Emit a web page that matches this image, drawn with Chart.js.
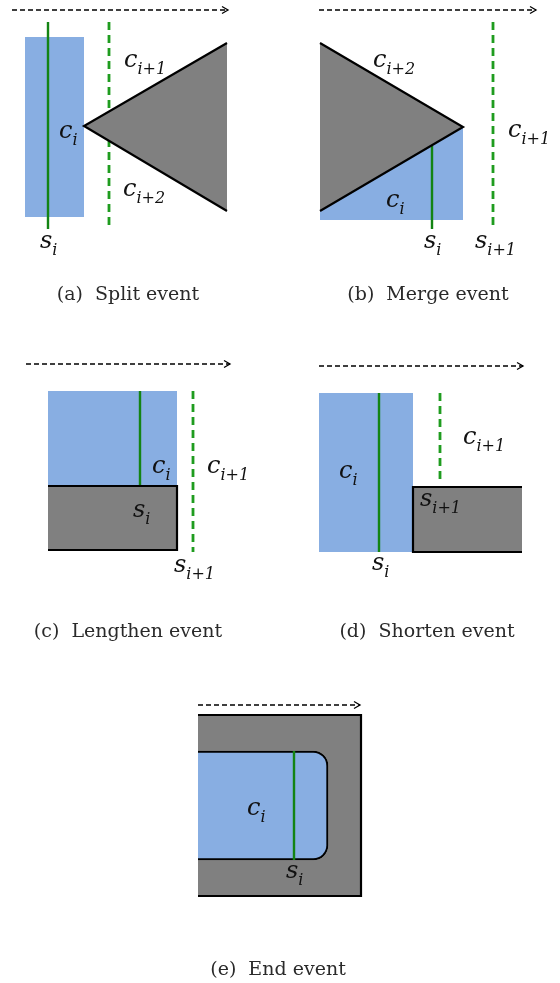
<!DOCTYPE html>
<html>
<head>
<meta charset="utf-8">
<script src="https://cdn.jsdelivr.net/npm/chart.js@4"></script>
<style>
html, body { margin: 0; padding: 0; background: #fff; }
canvas { display: block; }
</style>
</head>
<body>
<canvas id="eventChart" width="560" height="983"></canvas>
<script>
// sweep arrows, one per panel: [x start, x end, y]
var sweepArrows = [[12, 228, 10], [319, 536, 10], [26, 230, 364], [319, 523, 366], [198, 360, 705]];

// (a) split event
var splitCell = [[25, 37], [84, 37]], splitCellBottom = 217;
var splitUpper = [[84, 126], [227, 43]];
var splitLower = [[84, 126], [227, 211]];
var splitEdge = [[227, 43], [84, 126], [227, 211]];
var splitSweep = [[48, 22], [48, 229]];
var splitNext = [[109, 22], [109, 230]];

// (b) merge event
var mergeCell = [[320, 211], [463, 127]], mergeCellBottom = 220;
var mergeUpper = [[320, 43], [463, 127]];
var mergeLower = [[320, 211], [463, 127]];
var mergeEdge = [[320, 43], [463, 127], [320, 211]];
var mergeSweep = [[432, 146], [432, 229]];
var mergeNext = [[493, 22], [493, 230]];

// (c) lengthen event
var lengthCell = [[48, 391], [177, 391]], lengthCellBottom = 486;
var lengthObst = [[48, 486], [177, 486]], lengthObstBottom = 550;
var lengthObstEdge = [[48, 486], [177, 486], [177, 550], [48, 550]];
var lengthSweep = [[140, 391], [140, 486]];
var lengthNext = [[193, 391], [193, 552]];

// (d) shorten event
var shortCell = [[319, 393], [413, 393]], shortCellBottom = 552;
var shortObst = [[413, 487], [522, 487]], shortObstBottom = 552;
var shortObstEdge = [[522, 487], [413, 487], [413, 552], [522, 552]];
var shortSweep = [[379, 393], [379, 552]];
var shortNext = [[440, 393], [440, 482]];

// (e) end event
var endObst = [[198, 715], [361, 715]], endObstBottom = 896;
var endObstEdge = [[198, 715], [361, 715], [361, 896], [198, 896]];
var endCell = [198, 328], endCellMid = 805.5;
var endSweep = [[294, 751], [294, 860]];

// math labels: [base, subscript, left x, baseline y]
var mathLabels = [
  ['c', 'i+1', 124, 67], ['c', 'i', 59, 138], ['c', 'i+2', 123, 196], ['s', 'i', 40, 248],
  ['c', 'i+2', 373, 67], ['c', 'i+1', 508, 137], ['c', 'i', 386, 207], ['s', 'i', 424, 248], ['s', 'i+1', 475, 248],
  ['c', 'i', 152, 473], ['c', 'i+1', 207, 473], ['s', 'i', 133, 517], ['s', 'i+1', 174, 572],
  ['c', 'i+1', 463, 444], ['c', 'i', 339, 478], ['s', 'i+1', 420, 506], ['s', 'i', 372, 570],
  ['c', 'i', 247, 815], ['s', 'i', 286, 878]
];
var captions = [
  ['(a)  Split event', 128, 300], ['(b)  Merge event', 428, 300],
  ['(c)  Lengthen event', 128, 637], ['(d)  Shorten event', 427, 637],
  ['(e)  End event', 278, 975]
];

var BLUE = '#88aee2', GRAY = '#808080', GREEN = '#138413', GREEN_DASH = '#1f9c1f';

var datasets = [];
function add(points, o) {
  var d = Object.assign({
    type: 'line',
    data: points.map(function (p) { return {x: p[0], y: p[1]}; }),
    borderWidth: 0, borderColor: 'rgba(0,0,0,0)', pointRadius: 0,
    fill: false, tension: 0, borderJoinStyle: 'miter'
  }, o);
  datasets.push(d);
  return datasets.length - 1;
}
var edge = {borderColor: '#000', borderWidth: 2.2};
var solid = {borderColor: GREEN, borderWidth: 2.4};
var dashed = {borderColor: GREEN_DASH, borderWidth: 2.8, borderDash: [8, 5]};

// filled cells and obstacles (painter's order)
add(splitCell, {fill: {value: splitCellBottom}, backgroundColor: BLUE});
add(mergeCell, {fill: {value: mergeCellBottom}, backgroundColor: BLUE});
add(lengthCell, {fill: {value: lengthCellBottom}, backgroundColor: BLUE});
add(lengthObst, {fill: {value: lengthObstBottom}, backgroundColor: GRAY});
add(shortCell, {fill: {value: shortCellBottom}, backgroundColor: BLUE});
add(shortObst, {fill: {value: shortObstBottom}, backgroundColor: GRAY});
add(endObst, {fill: {value: endObstBottom}, backgroundColor: GRAY});

// sweep lines that sit under the obstacles
add(splitSweep, solid);
add(mergeSweep, solid);
add(lengthSweep, solid);
add(shortSweep, solid);
add(splitNext, dashed);
add(mergeNext, dashed);
add(lengthNext, dashed);
add(shortNext, dashed);

// triangles
var su = add(splitUpper, {});
add(splitLower, {fill: su, backgroundColor: GRAY});
var mu = add(mergeUpper, {});
add(mergeLower, {fill: mu, backgroundColor: GRAY});

// obstacle outlines
add(splitEdge, edge);
add(mergeEdge, edge);
add(lengthObstEdge, edge);
add(shortObstEdge, edge);
add(endObstEdge, edge);

// rounded cell of the end event
datasets.push({
  type: 'bar', indexAxis: 'y',
  data: [{x: endCell, y: endCellMid}],
  backgroundColor: BLUE, borderColor: '#000',
  borderWidth: 2, borderSkipped: 'left',
  borderRadius: {topRight: 15, bottomRight: 15},
  barThickness: 109
});
add(endSweep, solid);

// direction arrows
sweepArrows.forEach(function (a) {
  add([[a[0], a[2]], [a[1], a[2]]], {borderColor: '#000', borderWidth: 1.3, borderDash: [5, 3]});
  add([[a[1] - 6, a[2] - 3.5], [a[1], a[2]], [a[1] - 6, a[2] + 3.5]], {borderColor: '#000', borderWidth: 1.3});
});

datasets.forEach(function (d, i) { d.order = -i; });

var textPlugin = {
  id: 'diagramText',
  afterDatasetsDraw: function (chart) {
    var ctx = chart.ctx, xs = chart.scales.x, ys = chart.scales.y;
    ctx.save();
    ctx.fillStyle = '#111';
    ctx.textBaseline = 'alphabetic';
    ctx.textAlign = 'left';
    mathLabels.forEach(function (m) {
      var px = xs.getPixelForValue(m[2]), py = ys.getPixelForValue(m[3]);
      ctx.font = 'italic 24px "DejaVu Serif"';
      ctx.fillText(m[0], px, py);
      var w = ctx.measureText(m[0]).width;
      ctx.font = 'italic 16px "DejaVu Serif"';
      ctx.fillText(m[1], px + w, py + 7);
    });
    ctx.font = '19px "DejaVu Serif"';
    ctx.textAlign = 'center';
    ctx.fillStyle = '#2a2a2a';
    captions.forEach(function (c) {
      ctx.fillText(c[0], xs.getPixelForValue(c[1]), ys.getPixelForValue(c[2]));
    });
    ctx.restore();
  }
};

var ctx = document.getElementById('eventChart').getContext('2d');
var eventChart = new Chart(ctx, {
  type: 'line',
  data: {datasets: datasets},
  options: {
    responsive: false,
    animation: false,
    events: [],
    layout: {padding: 0, autoPadding: false},
    plugins: {
      legend: {display: false},
      tooltip: {enabled: false},
      filler: {drawTime: 'beforeDatasetDraw'}
    },
    scales: {
      x: {type: 'linear', min: 0, max: 560, offset: false, display: false},
      y: {type: 'linear', min: 0, max: 983, offset: false, reverse: true, display: false}
    }
  },
  plugins: [textPlugin]
});
</script>
</body>
</html>
